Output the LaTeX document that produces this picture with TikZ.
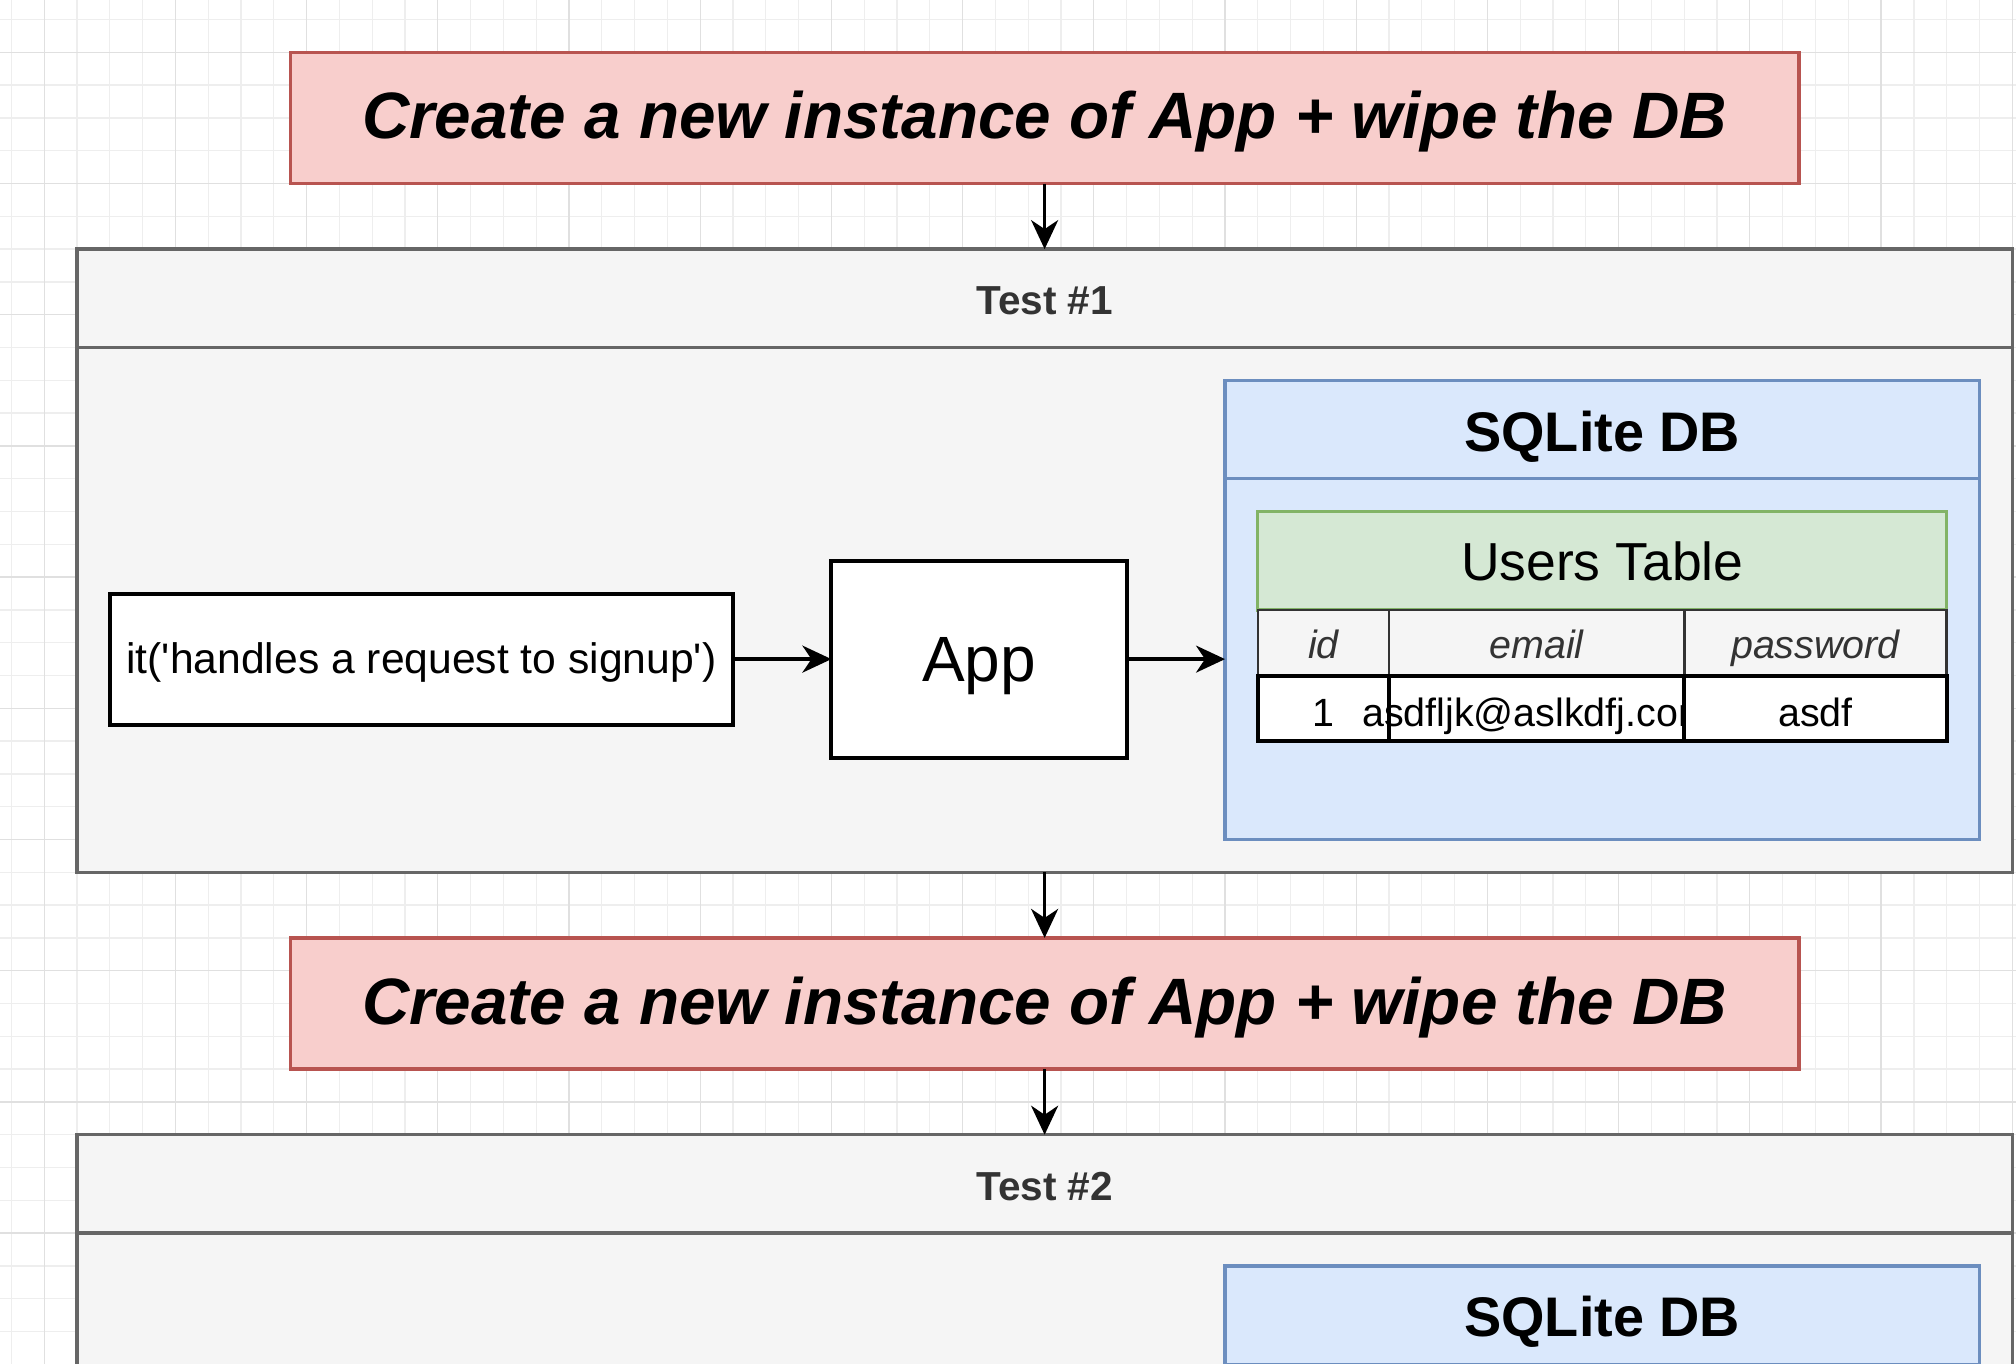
\documentclass[tikz,border=0pt]{standalone}
\usepackage{fontspec}
\setmainfont{Liberation Sans}
\usetikzlibrary{arrows.meta}

\definecolor{redfill}{HTML}{F8CECC}
\definecolor{redline}{HTML}{B85450}
\definecolor{grayfill}{HTML}{F5F5F5}
\definecolor{grayline}{HTML}{666666}
\definecolor{bluefill}{HTML}{DAE8FC}
\definecolor{blueline}{HTML}{6C8EBF}
\definecolor{greenfill}{HTML}{D5E8D4}
\definecolor{greenline}{HTML}{82B366}
\definecolor{darktext}{HTML}{333333}
\definecolor{gridminor}{HTML}{EEEEEE}
\definecolor{gridmajor}{HTML}{E0E0E0}

\newcommand\fsz[1]{\fontsize{#1pt}{#1pt}\selectfont}

\begin{document}
\begin{tikzpicture}[x=3.28pt,y=-3.28pt,
  % text depth 0 + a fixed text height puts each baseline at half that height below the centre
  every node/.style={inner sep=0pt, outer sep=0pt, align=center, text depth=0pt},
  sz/.style 2 args={minimum width=#1*3.28pt, minimum height=#2*3.28pt},
  banner/.style={draw=redline, fill=redfill, line width=3.28pt,
    font=\fsz{65.6}\bfseries\itshape, text height=41pt},
  testhead/.style={draw=grayline, fill=grayfill, line width=3.28pt,
    text=darktext, font=\fsz{40.5}\bfseries, text height=33pt},
  testbody/.style={draw=grayline, fill=grayfill, line width=3.28pt},
  dbhead/.style={draw=blueline, fill=bluefill, line width=3.28pt,
    font=\fsz{55.8}\bfseries, text height=43pt},
  dbbody/.style={draw=blueline, fill=bluefill, line width=3.28pt},
  tablehead/.style={draw=greenline, fill=greenfill, line width=3.28pt,
    font=\fsz{53.5}, text height=40pt},
  colhead/.style={draw=black!80, fill=grayfill, line width=2.6pt,
    text=darktext, font=\fsz{39.4}\itshape, text height=31pt},
  cell/.style={draw=black, fill=white, line width=4pt,
    font=\fsz{39.4}, text height=36pt},
  plainbox/.style={draw=black, fill=white, line width=4pt},
  arr/.style={line width=3.28pt, -{Stealth[length=29pt,width=27pt,inset=9pt]}}
]
% page and background grid
\clip (-23.476,-15.945) rectangle (591.15,399.90);
\fill[white] (-23.476,-15.945) rectangle (591.15,399.90);
\foreach \x in {-20,-10,...,590}
  \draw[gridminor, line width=1.3pt] (\x,-16) -- (\x,400);
\foreach \y in {-10,0,...,400}
  \draw[gridminor, line width=1.3pt] (-24,\y) -- (592,\y);
\foreach \x in {-10,30,...,590}
  \draw[gridmajor, line width=1.3pt] (\x,-16) -- (\x,400);
\foreach \y in {0,40,...,400}
  \draw[gridmajor, line width=1.3pt] (-24,\y) -- (592,\y);

% first reset step
\node[banner, sz={460}{40}] (reset1) at (295,20)
  {Create a new instance of App + wipe the DB};

% test #1 container
\node[testbody, sz={590}{160}] (test1) at (295,170) {};
\node[testhead, sz={590}{30}] (test1head) at (295,75) {Test \#1};

% request and app
\node[plainbox, sz={190}{40}, font=\fsz{42.64}, text height=28pt] (spec) at (105,185)
  {it(\textquotesingle handles a request to signup\textquotesingle)};
\node[plainbox, sz={90}{60}, font=\fsz{64}, text height=45.4pt] (app) at (275,185) {App};

% database with users table
\node[dbbody, sz={230}{110}] (db1) at (465,185) {};
\node[dbhead, sz={230}{30}] (db1head) at (465,115) {SQLite DB};
\node[tablehead, sz={210}{30}] (users) at (465,155) {Users Table};

\node[colhead, sz={40}{20}] (hid) at (380,180) {id};
\node[colhead, sz={90}{20}] (hemail) at (445,180) {email};
\node[colhead, sz={80}{20}] (hpw) at (530,180) {password};

\node[cell, sz={40}{20}] (did) at (380,200) {1};
\node[cell, sz={90}{20}] (demail) at (445,200) {\makebox[0pt]{asdfljk@aslkdfj.com}};
\draw[black, line width=4pt] (demail.north west) -- (demail.south west);
\node[cell, sz={80}{20}] (dpw) at (530,200) {asdf};

% second reset step
\node[banner, sz={460}{40}] (reset2) at (295,290)
  {Create a new instance of App + wipe the DB};

% test #2 container
\node[testbody, sz={590}{160}] (test2) at (295,440) {};
\node[testhead, sz={590}{30}] (test2head) at (295,345) {Test \#2};
\node[dbbody, sz={230}{110}] (db2) at (465,455) {};
\node[dbhead, sz={230}{30}] (db2head) at (465,385) {SQLite DB};

% connectors
\draw[arr] (reset1.south) -- (test1head.north);
\draw[arr] (spec.east) -- (app.west);
\draw[arr] (app.east) -- (db1.west |- app.east);
\draw[arr] (test1.south) -- (reset2.north);
\draw[arr] (reset2.south) -- (test2head.north);
\end{tikzpicture}
\end{document}
